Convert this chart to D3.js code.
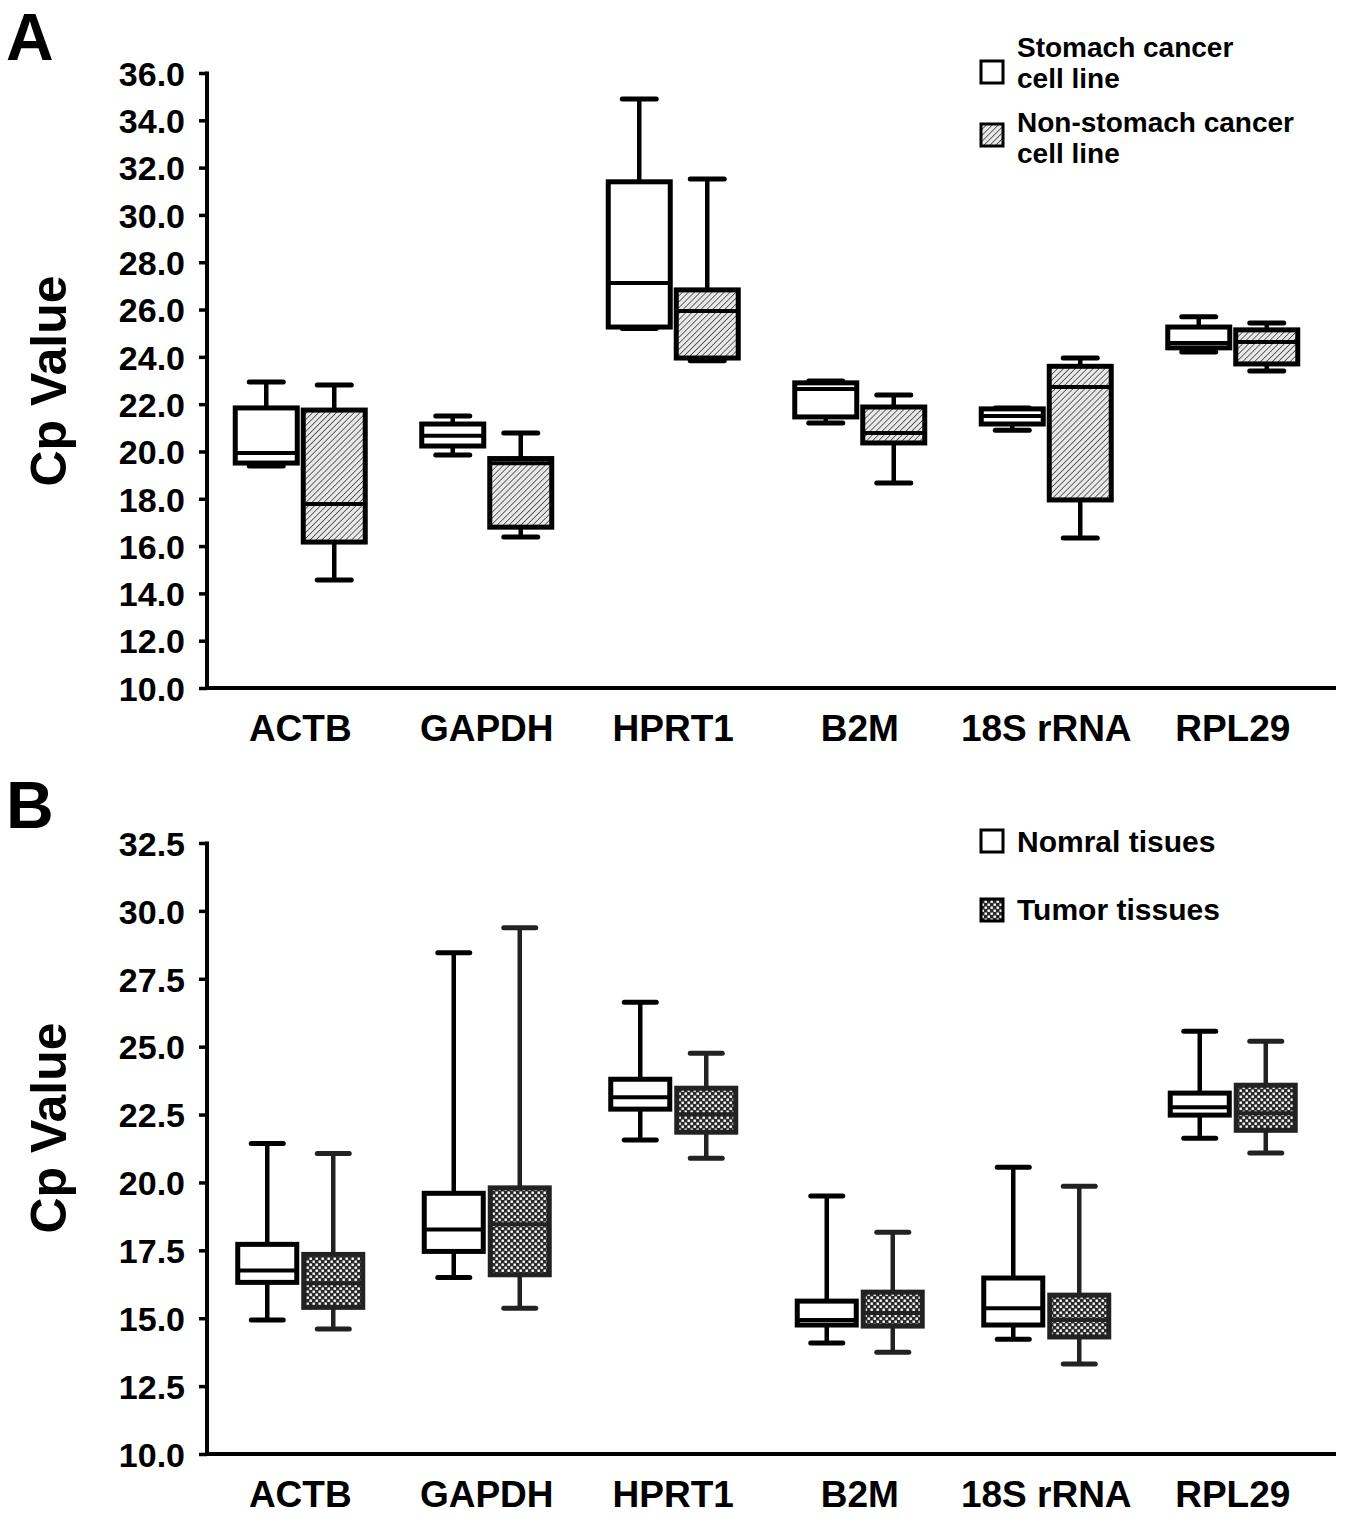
<!DOCTYPE html>
<html>
<head>
<meta charset="utf-8">
<script src="https://cdn.jsdelivr.net/npm/d3@7"></script>
<style>
  body { margin: 0; background: #fff; }
  text { font-family: "Liberation Sans", Arial, sans-serif; font-weight: bold; fill: #000; }
</style>
</head>
<body>
<svg id="chart" width="1368" height="1523"></svg>
<script>
// ---------------- DATA ----------------
const categories = ["ACTB", "GAPDH", "HPRT1", "B2M", "18S rRNA", "RPL29"];

// Panel A: [min, q1, median, q3, max]
const stomachCellLine = [
  [19.39, 19.51, 19.94, 21.84, 22.94],
  [19.85, 20.23, 20.66, 21.16, 21.50],
  [25.20, 25.26, 27.12, 31.40, 34.90],
  [21.20, 21.46, 22.64, 22.90, 22.98],
  [20.90, 21.16, 21.50, 21.80, 21.84],
  [24.20, 24.38, 24.59, 25.26, 25.69]
];
const nonStomachCellLine = [
  [14.57, 16.17, 17.78, 21.75, 22.81],
  [16.38, 16.80, 19.50, 19.70, 20.78],
  [23.83, 23.95, 25.94, 26.83, 31.52],
  [18.67, 20.36, 20.78, 21.88, 22.39],
  [16.34, 17.95, 22.73, 23.60, 23.95],
  [23.40, 23.70, 24.63, 25.14, 25.43]
];
// Panel B
const normalTissues = [
  [14.93, 16.32, 16.76, 17.72, 21.43],
  [16.50, 17.46, 18.27, 19.60, 28.46],
  [21.56, 22.70, 23.14, 23.80, 26.64],
  [14.09, 14.75, 14.93, 15.63, 19.50],
  [14.23, 14.75, 15.37, 16.48, 20.56],
  [21.63, 22.48, 22.77, 23.29, 25.57]
];
const tumorTissues = [
  [14.60, 15.40, 16.29, 17.35, 21.07],
  [15.37, 16.60, 18.46, 19.80, 29.38],
  [20.89, 21.85, 22.51, 23.47, 24.76],
  [13.75, 14.71, 15.19, 15.96, 18.17],
  [13.31, 14.31, 14.93, 15.85, 19.86],
  [21.08, 21.92, 22.55, 23.58, 25.20]
];

const ticksA = [10, 12, 14, 16, 18, 20, 22, 24, 26, 28, 30, 32, 34, 36];
const ticksB = [10, 12.5, 15, 17.5, 20, 22.5, 25, 27.5, 30, 32.5];
const legendA = ["Stomach cancer|cell line", "Non-stomach cancer|cell line"];
const legendB = ["Nomral tisues", "Tumor tissues"];
const yTitle = "Cp Value";

// ---------------- DRAW ----------------
const svg = d3.select("#chart");
const defs = svg.append("defs");

// diagonal hatch
const hatch = defs.append("pattern").attr("id", "hatch")
  .attr("patternUnits", "userSpaceOnUse").attr("width", 4.2).attr("height", 4.2)
  .attr("patternTransform", "rotate(45)");
hatch.append("rect").attr("width", 4.2).attr("height", 4.2).attr("fill", "#e8e8e8");
hatch.append("line").attr("x1", 0).attr("y1", 0).attr("x2", 0).attr("y2", 4.2)
  .attr("stroke", "#3a3a3a").attr("stroke-width", 1.5);

// checker (dark with white dots, offset rows)
const check = defs.append("pattern").attr("id", "check")
  .attr("patternUnits", "userSpaceOnUse").attr("width", 6).attr("height", 6);
check.append("rect").attr("width", 6).attr("height", 6).attr("fill", "#2a2a2a");
check.append("rect").attr("x", 0.5).attr("y", 0.5).attr("width", 2.4).attr("height", 2.4).attr("fill", "#fff");
check.append("rect").attr("x", 3.5).attr("y", 3.5).attr("width", 2.4).attr("height", 2.4).attr("fill", "#fff");

function panel(cfg) {
  const g = svg.append("g");
  const x = d3.scaleBand().domain(categories).range([207, 1326]);
  const y = d3.scaleLinear().domain(cfg.domain).range(cfg.yRange);
  const fmt = d3.format(".1f");

  // axes
  const yAxis = d3.axisLeft(y).tickValues(cfg.ticks).tickFormat(fmt).tickSize(8).tickPadding(14);
  const ya = g.append("g").attr("transform", "translate(207,0)").call(yAxis);
  ya.select(".domain").remove();
  ya.selectAll(".tick line").attr("stroke", "#000").attr("stroke-width", 3.5);
  ya.selectAll(".tick text").style("font-size", "34px").attr("dy", "0.36em");
  g.append("line").attr("x1", 207).attr("x2", 207)
    .attr("y1", y(cfg.domain[1]) - 1.5).attr("y2", y(cfg.domain[0]) + 2)
    .attr("stroke", "#000").attr("stroke-width", 4);
  g.append("line").attr("x1", 205).attr("x2", 1336)
    .attr("y1", y(cfg.domain[0])).attr("y2", y(cfg.domain[0]))
    .attr("stroke", "#000").attr("stroke-width", 4);

  const xAxis = d3.axisBottom(x).tickSize(0).tickPadding(0);
  const xa = g.append("g").attr("transform", `translate(0,${y(cfg.domain[0])})`).call(xAxis);
  xa.select(".domain").remove();
  xa.selectAll(".tick text").style("font-size", "37px").attr("y", 53).attr("dy", 0);

  // y title
  g.append("text").attr("transform", `translate(66,${cfg.titleY}) rotate(-90)`)
    .attr("text-anchor", "middle").style("font-size", "50px").text(yTitle);

  // panel letter
  g.append("text").attr("x", 6).attr("y", cfg.letterY).style("font-size", "66px").text(cfg.letter);

  // boxes
  const bw = cfg.boxW, off = cfg.off;
  cfg.series.forEach((s, si) => {
    const dx = si === 0 ? -off : off;
    const fill = si === 0 ? "#fff" : s.fill;
    const stroke = si === 0 ? "#000" : cfg.stroke2;
    const bg = g.append("g");
    s.data.forEach((d, i) => {
      const cx = x(categories[i]) + x.bandwidth() / 2 + dx;
      const [mn, q1, md, q3, mx] = d;
      bg.append("line").attr("x1", cx).attr("x2", cx).attr("y1", y(mx)).attr("y2", y(q3))
        .attr("stroke", stroke).attr("stroke-width", cfg.wW);
      bg.append("line").attr("x1", cx).attr("x2", cx).attr("y1", y(q1)).attr("y2", y(mn))
        .attr("stroke", stroke).attr("stroke-width", cfg.wW);
      [mn, mx].forEach(v => {
        bg.append("line").attr("x1", cx - cfg.capW / 2).attr("x2", cx + cfg.capW / 2)
          .attr("y1", y(v)).attr("y2", y(v)).attr("stroke", stroke)
          .attr("stroke-width", cfg.capT).attr("stroke-linecap", "round");
      });
      bg.append("rect").attr("x", cx - bw / 2).attr("y", y(q3))
        .attr("width", bw).attr("height", y(q1) - y(q3))
        .attr("fill", fill).attr("stroke", stroke).attr("stroke-width", cfg.boxS);
      bg.append("line").attr("x1", cx - bw / 2).attr("x2", cx + bw / 2)
        .attr("y1", y(md)).attr("y2", y(md)).attr("stroke", stroke).attr("stroke-width", cfg.medS);
    });
  });

  // legend
  cfg.legend.forEach((lab, li) => {
    const ly = cfg.legY[li];
    g.append("rect").attr("x", 981).attr("y", ly - 22).attr("width", 22).attr("height", 22)
      .attr("fill", li === 0 ? "#fff" : cfg.series[1].fill)
      .attr("stroke", "#000").attr("stroke-width", 3);
    const lines = lab.split("|");
    lines.forEach((ln, k) => {
      g.append("text").attr("x", 1017).attr("y", cfg.legTextY[li] + k * cfg.legGap)
        .style("font-size", cfg.legFont).text(ln);
    });
  });
}

panel({
  letter: "A", letterY: 60, titleY: 381,
  domain: [10, 36], yRange: [688, 73], ticks: ticksA,
  series: [{ data: stomachCellLine }, { data: nonStomachCellLine, fill: "url(#hatch)" }],
  stroke2: "#000",
  boxW: 62, off: 34, capW: 34, capT: 5, wW: 4.5, boxS: 5, medS: 4,
  legend: legendA, legY: [83, 146], legTextY: [57, 132], legGap: 31, legFont: "28px"
});

panel({
  letter: "B", letterY: 828, titleY: 1128,
  domain: [10, 32.5], yRange: [1454, 843], ticks: ticksB,
  series: [{ data: normalTissues }, { data: tumorTissues, fill: "url(#check)" }],
  stroke2: "#222",
  boxW: 59, off: 33, capW: 32, capT: 5, wW: 4.5, boxS: 5, medS: 4,
  legend: legendB, legY: [852, 921], legTextY: [852, 920], legGap: 0, legFont: "30px"
});
</script>
</body>
</html>
